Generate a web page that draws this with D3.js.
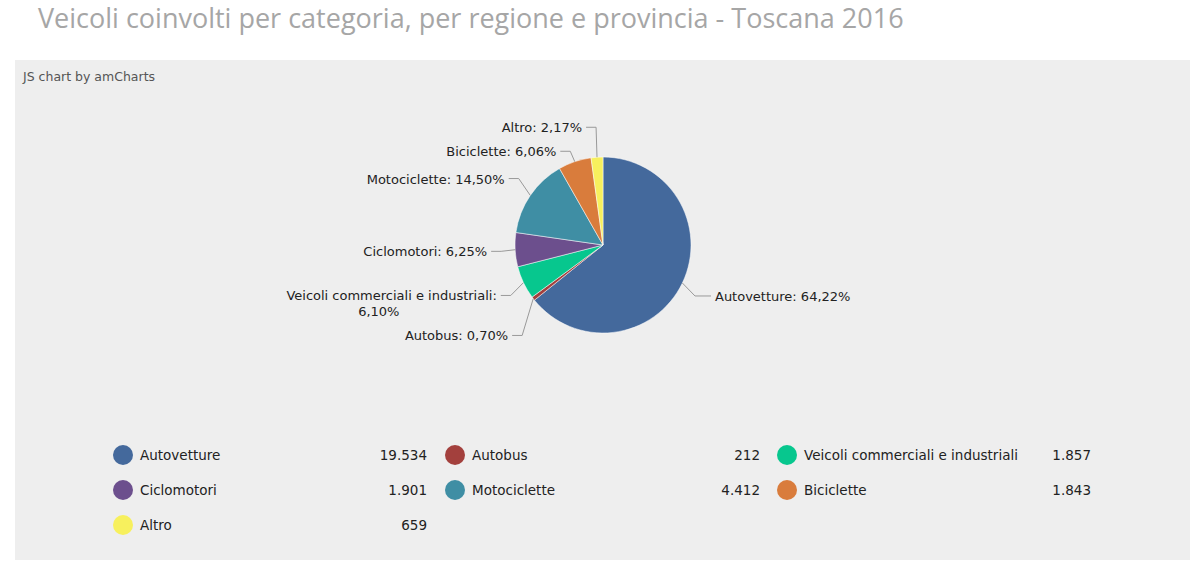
<!DOCTYPE html>
<html><head><meta charset="utf-8">
<script src="https://cdn.jsdelivr.net/npm/d3@7"></script>
<style>body{margin:0;background:#fff;font-family:"DejaVu Sans",sans-serif}</style>
</head><body><svg id="c" width="1200" height="571"></svg>
<script>
// data
var categories = ["Autovetture","Autobus","Veicoli commerciali e industriali","Ciclomotori","Motociclette","Biciclette","Altro"];
var values = [19534, 212, 1857, 1901, 4412, 1843, 659];
var colors = ["#44699c","#a3403d","#07c78e","#6c4f8d","#3f8ea4","#d97c3c","#f7f05d"];

var it = d3.formatLocale({decimal:",", thousands:".", grouping:[3], currency:["€",""]});
var fmtN = it.format(",d"), fmtP = it.format(".2f");

var svg = d3.select("#c");
svg.append("text").attr("x", 38).attr("y", 28).attr("font-family","Open Sans, sans-serif")
	.attr("font-size", 27).attr("fill", "#a6a6a6").text("Veicoli coinvolti per categoria, per regione e provincia - Toscana 2016");
svg.append("rect").attr("x", 15).attr("y", 60).attr("width", 1175).attr("height", 500).attr("fill", "#eeeeee");
svg.append("text").attr("x", 23).attr("y", 81).attr("font-size", 12.5).attr("fill", "#555").text("JS chart by amCharts");

var cx = 603, cy = 245, r = 88;
var total = d3.sum(values);
var pie = d3.pie().sort(null).value(function(d) { return d; });
var arcs = pie(values);
var arc = d3.arc().innerRadius(0).outerRadius(r);
var g = svg.append("g").attr("transform", "translate(" + cx + "," + cy + ")");
g.selectAll("path").data(arcs).enter().append("path")
	.attr("d", arc).attr("fill", function(d, i) { return colors[i]; })
	.attr("stroke", "#fff").attr("stroke-width", 0.5);

// labels
var R = r + 30;
var labs = arcs.map(function(d, i) {
	var a = (d.startAngle + d.endAngle) / 2;
	var text = categories[i] + ": " + fmtP(values[i] / total * 100) + "%";
	var lines = text.length > 30 ? [categories[i] + ":", fmtP(values[i] / total * 100) + "%"] : [text];
	return {i: i, a: a, y: -Math.cos(a) * R, right: Math.sin(a) > 0, lines: lines};
});
var left = labs.filter(function(l) { return !l.right; }).sort(function(a, b) { return a.y - b.y; });
for (var k = 1; k < left.length; k++) {
	var prev = left[k - 1], gap = 24 + (prev.lines.length - 1) * 16;
	if (left[k].y < prev.y + gap) left[k].y = prev.y + gap;
}
labs.forEach(function(l) {
	var sx = Math.sin(l.a) * r, sy = -Math.cos(l.a) * r;
	var ex = Math.sin(l.a) * (r + 14), ey = l.y;
	var tx = ex + (l.right ? 16 : -10);
	g.append("polyline").attr("points", [[sx, sy], [ex, ey], [tx, ey]].map(String).join(" "))
		.attr("fill", "none").attr("stroke", "#999").attr("stroke-width", 1);
	var t = g.append("text").attr("x", tx + (l.right ? 4 : -4)).attr("y", ey + 5)
		.attr("text-anchor", l.right ? "start" : "end").attr("font-size", 13).attr("fill", "#222");
	l.lines.forEach(function(s, j) {
		t.append("tspan").attr("x", tx + (l.right ? 4 : -4) - (j > 0 ? 0 : 0)).attr("dy", j ? 16 : 0)
			.attr("text-anchor", j ? "middle" : (l.right ? "start" : "end"))
			.attr("dx", j ? -118 : 0).text(s);
	});
});

// legend
var colX = [123, 455, 787], valX = [427, 760, 1091], rowY = [455, 490, 525];
var lg = svg.selectAll("g.leg").data(categories).enter().append("g").attr("class", "leg")
	.attr("transform", function(d, i) { return "translate(" + colX[i % 3] + "," + rowY[Math.floor(i / 3)] + ")"; });
lg.append("circle").attr("r", 10).attr("fill", function(d, i) { return colors[i]; });
lg.append("text").attr("x", 17).attr("y", 5).attr("font-size", 13.5).attr("fill", "#222").text(function(d) { return d; });
lg.append("text").attr("x", function(d, i) { return valX[i % 3] - colX[i % 3]; }).attr("y", 5)
	.attr("text-anchor", "end").attr("font-size", 13.5).attr("fill", "#222")
	.text(function(d, i) { return fmtN(values[i]); });
</script></body></html>
